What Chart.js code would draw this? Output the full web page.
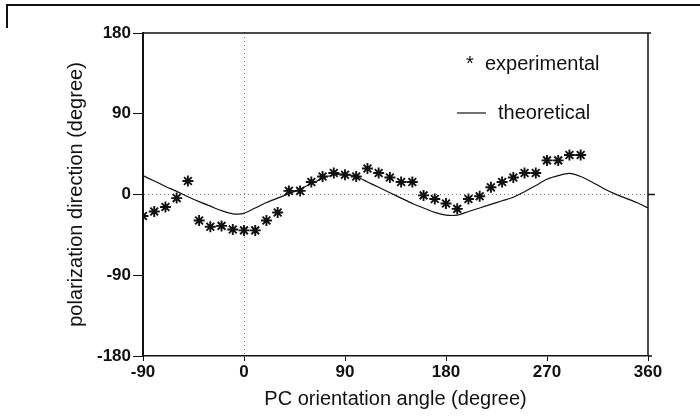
<!DOCTYPE html>
<html>
<head>
<meta charset="utf-8">
<title>Polarization direction vs PC orientation angle</title>
<script src="https://cdn.jsdelivr.net/npm/chart.js@4/dist/chart.umd.min.js"></script>
<style>
  html, body { margin: 0; padding: 0; background: #fff; }
  #wrap { width: 700px; height: 416px; position: relative; }
</style>
</head>
<body>
<div id="wrap"><canvas id="c" width="700" height="416"></canvas></div>
<script>
// Measured polarization direction (degree) at each PC orientation angle
const expAngles = [-90, -80, -70, -60, -50, -40, -30, -20, -10, 0,
                   10, 20, 30, 40, 50, 60, 70, 80, 90, 100,
                   110, 120, 130, 140, 150, 160, 170, 180, 190, 200,
                   210, 220, 230, 240, 250, 260, 270, 280, 290, 300];
const experimental = [-24, -19, -14, -4, 15, -29, -36, -35, -39, -40,
                      -40, -29, -20, 4, 4, 14, 20, 24, 22, 20,
                      29, 24, 19, 14, 14, -1, -5, -10, -16, -5,
                      -2, 8, 14, 19, 24, 24, 38, 38, 44, 44];

// Calculated polarization direction (degree)
const theoryAngles = [-90, -80, -70, -60, -50, -40, -30, -20, -10, 0,
                      10, 20, 30, 40, 50, 60, 70, 80, 90, 100,
                      110, 120, 130, 140, 150, 160, 170, 180, 190, 200,
                      210, 220, 230, 240, 250, 260, 270, 280, 290, 300,
                      310, 320, 330, 340, 350, 360];
const theoretical = [21, 15, 9, 3.5, -2.5, -8, -13, -18, -21.5, -21,
                     -15, -9, -4, 1, 6, 12, 18, 22, 22.5, 20,
                     14, 8, 2, -4, -10, -15, -20, -23, -23, -19,
                     -15, -11, -7, -3, 3, 10, 17, 21, 23.5, 20,
                     14, 7, 1, -4, -9, -15];

const xTicks = [-90, 0, 90, 180, 270, 360];
const yTicks = [-180, -90, 0, 90, 180];

const FONT = '"Liberation Sans", Arial, Helvetica, sans-serif';
const INK = '#111';

const expPoints = expAngles.map((a, i) => ({ x: a, y: experimental[i] }));
const theoryPoints = theoryAngles.map((a, i) => ({ x: a, y: theoretical[i] }));

// Frame lines, the right-hand tick at zero and the in-plot legend
const decorations = {
  id: 'decorations',
  afterDraw(chart) {
    const { ctx, chartArea: a, scales } = chart;
    const y0 = scales.y.getPixelForValue(0);
    ctx.save();
    ctx.strokeStyle = INK;
    ctx.lineCap = 'butt';

    // page frame corner
    ctx.lineWidth = 2;
    ctx.beginPath();
    ctx.moveTo(7, 28);
    ctx.lineTo(7, 5);
    ctx.lineTo(700, 5);
    ctx.stroke();

    // top and right sides of the plot box
    ctx.lineWidth = 1.5;
    ctx.beginPath();
    ctx.moveTo(a.left, a.top);
    ctx.lineTo(a.right + 3, a.top);
    ctx.moveTo(a.right, a.top);
    ctx.lineTo(a.right, a.bottom);
    ctx.moveTo(a.right, a.bottom);
    ctx.lineTo(a.right + 4, a.bottom);
    ctx.moveTo(a.right, y0);
    ctx.lineTo(a.right + 7, y0);
    ctx.stroke();

    // legend
    ctx.fillStyle = INK;
    ctx.font = '20px ' + FONT;
    ctx.textBaseline = 'alphabetic';
    ctx.textAlign = 'left';
    ctx.fillText('*', 466, 70);
    ctx.fillText('experimental', 485, 70);
    ctx.lineWidth = 1.2;
    ctx.beginPath();
    ctx.moveTo(457, 113);
    ctx.lineTo(486, 113);
    ctx.stroke();
    ctx.fillText('theoretical', 498, 119);
    ctx.restore();
  }
};

// only the zero lines are drawn across the plot, dotted
const zeroOnly = (ctx) => (ctx.tick && ctx.tick.value === 0) ? '#777' : 'rgba(0,0,0,0)';

new Chart(document.getElementById('c'), {
  type: 'scatter',
  data: {
    datasets: [
      {
        label: 'theoretical',
        data: theoryPoints,
        showLine: true,
        borderColor: INK,
        borderWidth: 1.2,
        pointRadius: 0,
        tension: 0.25,
        order: 2
      },
      {
        label: 'experimental',
        data: expPoints,
        showLine: false,
        pointStyle: 'star',
        pointRadius: 5.5,
        borderColor: INK,
        backgroundColor: INK,
        pointBorderWidth: 1.9,
        order: 1
      }
    ]
  },
  options: {
    responsive: false,
    animation: false,
    devicePixelRatio: 1,
    layout: { padding: { top: 33, right: 52, left: 0, bottom: 0 } },
    plugins: { legend: { display: false }, tooltip: { enabled: false } },
    scales: {
      x: {
        type: 'linear',
        min: -90,
        max: 360,
        afterBuildTicks: (s) => { s.ticks = xTicks.map(v => ({ value: v })); },
        afterFit: (s) => { s.height = 60; },
        grid: {
          drawOnChartArea: true,
          drawTicks: true,
          tickLength: 5,
          tickColor: INK,
          tickWidth: 1,
          tickBorderDash: [],
          color: zeroOnly,
          lineWidth: 1
        },
        border: { display: true, color: INK, width: 1.5, dash: [1, 3] },
        ticks: {
          color: INK,
          padding: 1,
          maxRotation: 0,
          font: { family: FONT, size: 17, weight: 'bold' },
          callback: (v) => String(v)
        },
        title: {
          display: true,
          text: 'PC orientation angle (degree)',
          color: INK,
          font: { family: FONT, size: 20 },
          padding: { top: 0, bottom: 5 }
        }
      },
      y: {
        type: 'linear',
        min: -180,
        max: 180,
        afterBuildTicks: (s) => { s.ticks = yTicks.map(v => ({ value: v })); },
        afterFit: (s) => { s.width = 143; },
        grid: {
          drawOnChartArea: true,
          drawTicks: true,
          tickLength: 10,
          tickColor: INK,
          tickWidth: 1,
          tickBorderDash: [],
          color: zeroOnly,
          lineWidth: 1
        },
        border: { display: true, color: INK, width: 2, dash: [1, 3] },
        ticks: {
          color: INK,
          padding: 2,
          font: { family: FONT, size: 17, weight: 'bold' },
          callback: (v) => String(v)
        },
        title: {
          display: true,
          text: 'polarization direction (degree)',
          color: INK,
          font: { family: FONT, size: 20 },
          padding: { top: 64, bottom: 0 }
        }
      }
    }
  },
  plugins: [decorations]
});
</script>
</body>
</html>
